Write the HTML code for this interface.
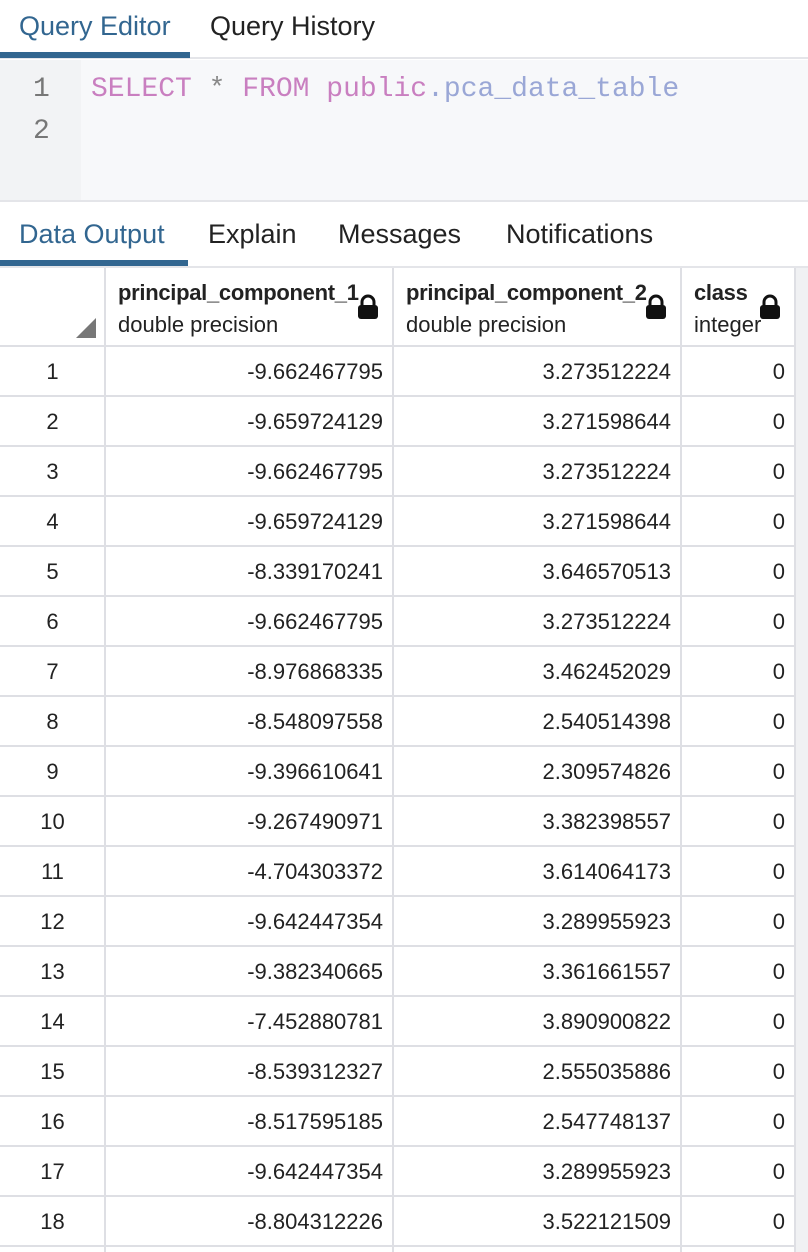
<!DOCTYPE html>
<html><head><meta charset="utf-8">
<style>
*{box-sizing:border-box;margin:0;padding:0}
body{width:808px;height:1252px;overflow:hidden;background:#fff;font-family:"Liberation Sans",sans-serif;color:#222;position:relative}
.abs{position:absolute}
.tab{position:absolute;font-size:27px;color:#222;white-space:nowrap}
.tab.active{color:#326690}
.code{font-family:"Liberation Mono",monospace;font-size:28px}
.cell{position:absolute;font-size:22px;color:#222;white-space:nowrap}
.hline{position:absolute;left:0;width:795px;height:2px;background:#dedfe4}
.vline{position:absolute;width:2px;background:#dedfe4}
</style></head><body>
<div class="abs" style="left:0;top:0;width:808px;height:59px;background:#fff;border-bottom:2px solid #e4e5e9"></div>
<div class="tab active" style="left:19px;top:11px">Query Editor</div>
<div class="tab" style="left:210px;top:11px">Query History</div>
<div class="abs" style="left:0;top:52px;width:190px;height:6px;background:#326690"></div>

<div class="abs" style="left:0;top:60px;width:808px;height:142px;background:#f7f8fa;border-bottom:2px solid #e4e5e9"></div>
<div class="abs" style="left:0;top:60px;width:81px;height:140px;background:#f2f3f5"></div>
<div class="abs code" style="left:33px;top:74px;color:#777">1</div>
<div class="abs code" style="left:33px;top:116px;color:#777">2</div>
<div class="abs code" style="left:91px;top:74px;white-space:pre"><span style="color:#c97fc0">SELECT</span> <span style="color:#888">*</span> <span style="color:#c97fc0">FROM</span> <span style="color:#c97fc0">public</span><span style="color:#9aa7d6">.pca_data_table</span></div>

<div class="tab active" style="left:19px;top:219px">Data Output</div>
<div class="tab" style="left:208px;top:219px">Explain</div>
<div class="tab" style="left:338px;top:219px">Messages</div>
<div class="tab" style="left:506px;top:219px">Notifications</div>
<div class="abs" style="left:0;top:260px;width:188px;height:6px;background:#326690"></div>
<div class="abs" style="left:0;top:266px;width:808px;height:2px;background:#e4e5e9"></div>

<div class="abs" style="left:795px;top:268px;width:13px;height:984px;background:#f0f1f3"></div>
<div class="abs" style="left:0;top:268px;width:795px;height:78px;background:#fff"></div>
<div class="abs" style="left:76px;top:318px;width:0;height:0;border-left:20px solid transparent;border-bottom:20px solid #777"></div>

<div id="grid"></div>

<script>
const rowNumbers = [1,2,3,4,5,6,7,8,9,10,11,12,13,14,15,16,17,18];
const pc1Values = ["-9.662467795","-9.659724129","-9.662467795","-9.659724129","-8.339170241","-9.662467795","-8.976868335","-8.548097558","-9.396610641","-9.267490971","-4.704303372","-9.642447354","-9.382340665","-7.452880781","-8.539312327","-8.517595185","-9.642447354","-8.804312226"];
const pc2Values = ["3.273512224","3.271598644","3.273512224","3.271598644","3.646570513","3.273512224","3.462452029","2.540514398","2.309574826","3.382398557","3.614064173","3.289955923","3.361661557","3.890900822","2.555035886","2.547748137","3.289955923","3.522121509"];
const classValues = [0,0,0,0,0,0,0,0,0,0,0,0,0,0,0,0,0,0];
const columnNames = ["principal_component_1","principal_component_2","class"];
const columnTypes = ["double precision","double precision","integer"];

const g = document.getElementById('grid');
const colX = [0,105,393,681,795];
const top0 = 346, rowH = 50;

function add(html, cls, style){
  const d = document.createElement('div');
  d.className = cls; d.setAttribute('style', style); d.innerHTML = html;
  g.appendChild(d); return d;
}
for (let i=1;i<colX.length;i++){
  const v = add('', 'vline', `left:${colX[i]-1}px;top:268px;height:984px`);
  
  
}
for (let c=0;c<columnNames.length;c++){
  const x = colX[c+1];
  const h = add(columnNames[c], 'cell', `left:${x+13}px;top:280px;font-weight:bold;font-size:22px;letter-spacing:-0.3px;width:${colX[c+2]-x-22}px;overflow:hidden`);
  
  
  const t = add(columnTypes[c], 'cell', `left:${x+13}px;top:312px`);
  
  
  const lock = add('<svg width="22" height="26"><path d="M5 12 V8 a6 6 0 0 1 12 0 V12" fill="none" stroke="#111" stroke-width="3"/><rect x="1" y="11" width="20" height="14" rx="3" fill="#111"/></svg>', 'abs', `left:${colX[c+2]-36}px;top:294px`);
  
  
}
const hb = add('', 'hline', `top:${top0-1}px`);


for (let r=0;r<rowNumbers.length;r++){
  const y = top0 + r*rowH;
  const line = add('', 'hline', `top:${y+rowH-1}px`);
  
  
  const ty = y + 13;
  const n = add(String(rowNumbers[r]), 'cell', `left:0;width:105px;text-align:center;top:${ty}px`);
  
  
  const a = add(pc1Values[r], 'cell', `left:${colX[1]}px;width:${colX[2]-colX[1]-10}px;text-align:right;top:${ty}px`);
  
  
  const b = add(pc2Values[r], 'cell', `left:${colX[2]}px;width:${colX[3]-colX[2]-10}px;text-align:right;top:${ty}px`);
  
  
  const c = add(String(classValues[r]), 'cell', `left:${colX[3]}px;width:${colX[4]-colX[3]-10}px;text-align:right;top:${ty}px`);
  
  
}
</script>
</body></html>
